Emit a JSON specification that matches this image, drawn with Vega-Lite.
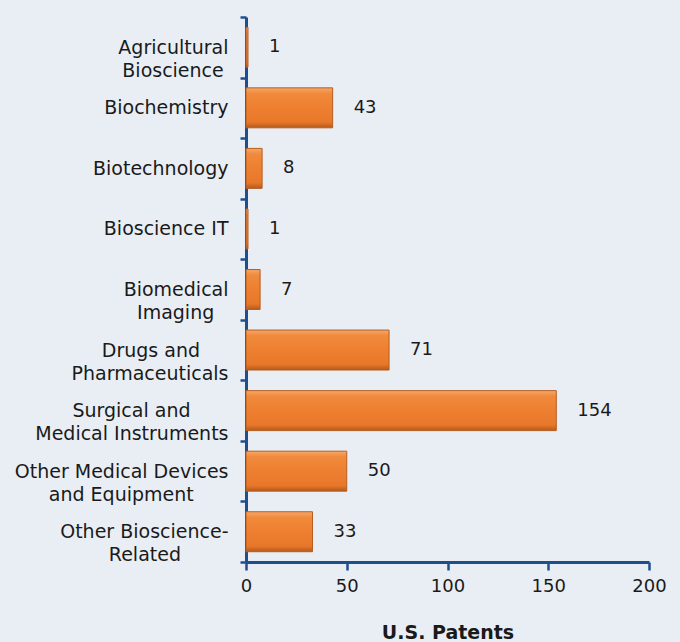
{
  "$schema": "https://vega.github.io/schema/vega-lite/v6.json",
  "width": 403,
  "height": 545,
  "autosize": {"type": "none"},
  "padding": {"left": 246, "top": 17, "right": 31, "bottom": 80},
  "background": "#e9eef5",
  "config": {
    "view": {"stroke": null},
    "font": "DejaVu Sans"
  },
  "data": {
    "values": [
      {"cat": "Agricultural|Bioscience\u2005\u2060", "n": 1},
      {"cat": "Biochemistry", "n": 43},
      {"cat": "Biotechnology", "n": 8},
      {"cat": "Bioscience IT", "n": 1},
      {"cat": "Biomedical|Imaging\u2002\u2005\u2060", "n": 7},
      {"cat": "Drugs and\u2003\u2002\u2060|Pharmaceuticals", "n": 71},
      {"cat": "Surgical and\u2003\u2003\u2060|Medical Instruments", "n": 154},
      {"cat": "Other Medical Devices|and Equipment\u2003\u2002\u2004\u2060", "n": 50},
      {"cat": "Other Bioscience-|Related\u2003\u2003\u2002\u2060", "n": 33}
    ]
  },
  "encoding": {
    "y": {
      "field": "cat",
      "type": "nominal",
      "sort": null,
      "scale": {"paddingInner": 0, "paddingOuter": 0},
      "axis": {
        "title": null,
        "labelExpr": "split(datum.label, '|')",
        "labelFontSize": 19,
        "labelColor": "#1a1a1a",
        "labelPadding": 12,
        "labelLineHeight": 23,
        "labelLimit": 400,
        "tickBand": "extent",
        "tickSize": 6,
        "tickWidth": 2.5,
        "tickColor": "#1f4e8c",
        "domainColor": "#1f4e8c",
        "domainWidth": 3
      }
    },
    "x": {
      "field": "n",
      "type": "quantitative",
      "scale": {"domain": [0, 200]},
      "axis": {
        "title": "U.S. Patents",
        "titleFontSize": 19,
        "titleFontWeight": "bold",
        "titleColor": "#1a1a1a",
        "titlePadding": 28,
        "values": [0, 50, 100, 150, 200],
        "labelFontSize": 18,
        "labelColor": "#1a1a1a",
        "labelPadding": 7,
        "labelFlush": false,
        "grid": false,
        "tickSize": 8,
        "tickWidth": 2.5,
        "tickColor": "#1f4e8c",
        "domainColor": "#1f4e8c",
        "domainWidth": 3
      }
    }
  },
  "layer": [
    {
      "mark": {
        "type": "bar",
        "height": {"band": 0.66},
        "stroke": "#b65e22",
        "strokeWidth": 1,
        "color": {
          "gradient": "linear",
          "x1": 0, "y1": 0, "x2": 0, "y2": 1,
          "stops": [
            {"offset": 0, "color": "#f6a86a"},
            {"offset": 0.14, "color": "#f08a3c"},
            {"offset": 0.5, "color": "#ee7f30"},
            {"offset": 0.86, "color": "#e8772a"},
            {"offset": 1, "color": "#b45a1c"}
          ]
        }
      }
    },
    {
      "mark": {"type": "text", "align": "left", "dx": 21, "fontSize": 18, "color": "#1a1a1a"},
      "encoding": {"text": {"field": "n", "type": "quantitative"}}
    }
  ]
}
